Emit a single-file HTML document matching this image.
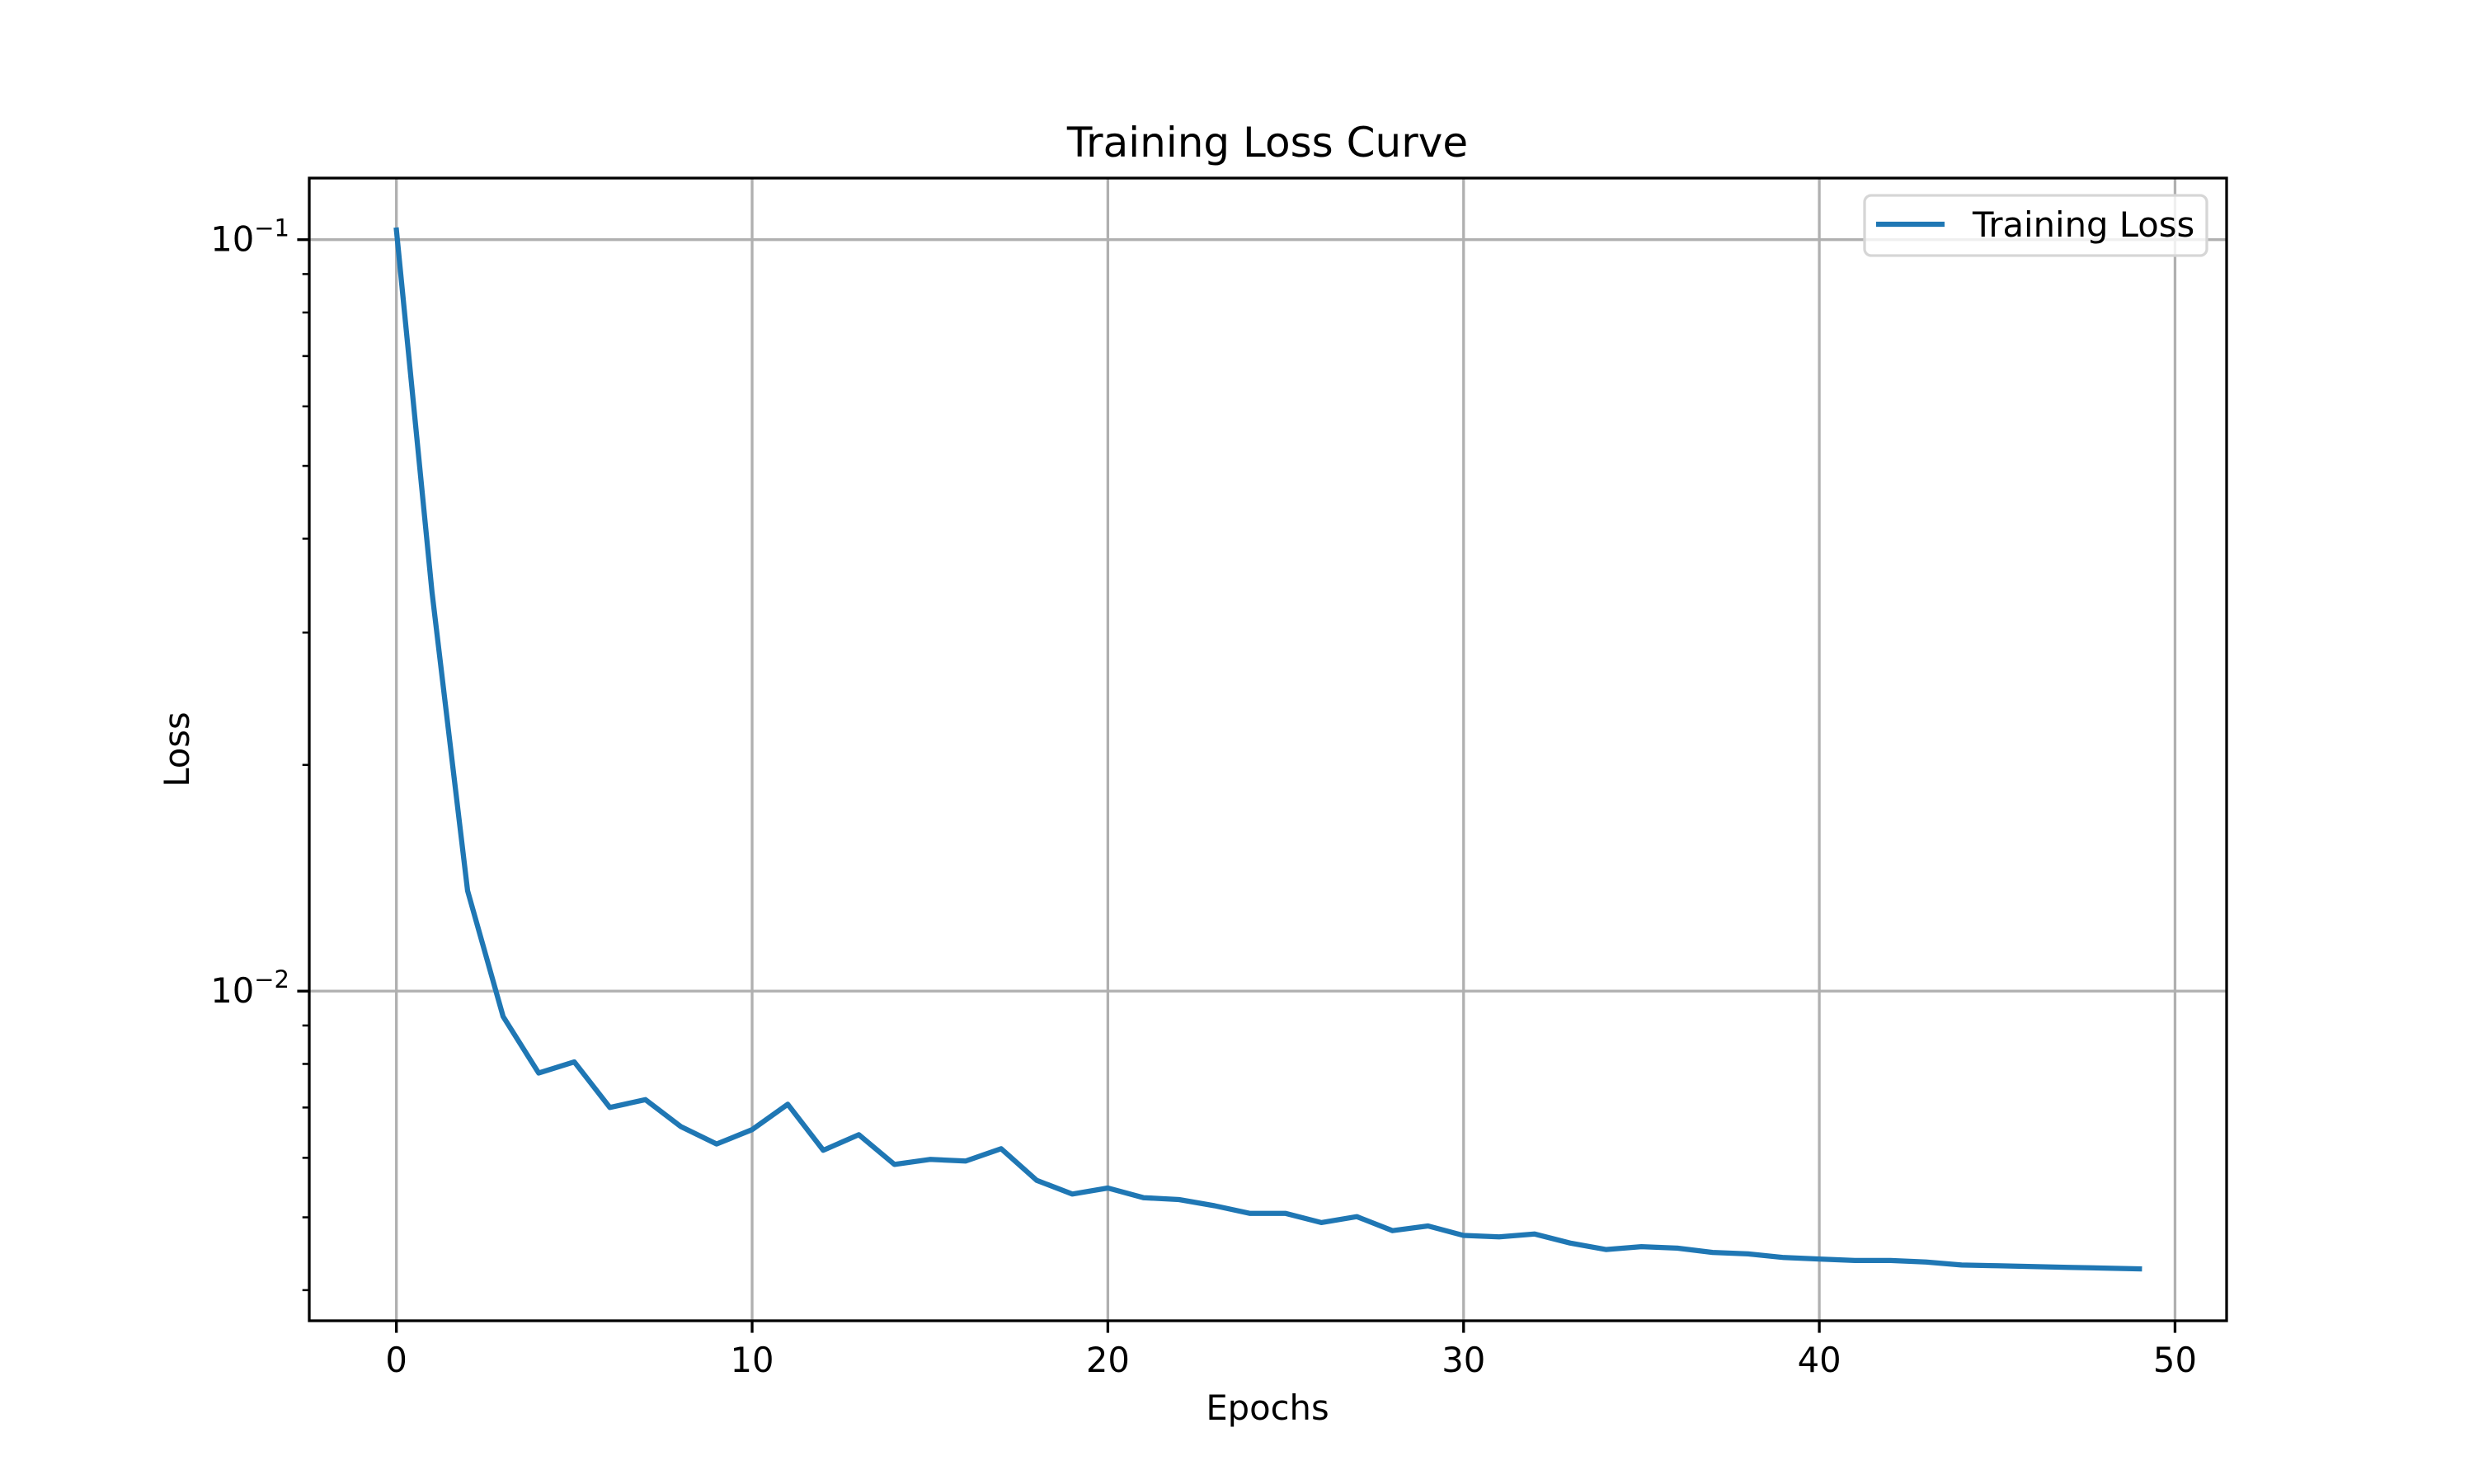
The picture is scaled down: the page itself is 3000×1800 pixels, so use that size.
<!DOCTYPE html>
<html><head><meta charset="utf-8"><style>
html,body{margin:0;padding:0;background:#fff;}
svg{display:block;font-family:"DejaVu Sans","Liberation Sans",sans-serif;}
</style></head><body>
<svg id="chart" width="3000" height="1800" viewBox="0 0 3000 1800" xmlns="http://www.w3.org/2000/svg">
<rect width="3000" height="1800" fill="#fff"/>
<g id="grid"></g>
<g id="ticks"></g>
<g id="series"></g>
<rect x="375" y="216" width="2325" height="1386" fill="none" stroke="#000" stroke-width="3.3"/>
<text x="1537" y="190" font-size="50" text-anchor="middle">Training Loss Curve</text>
<text x="1537" y="1722" font-size="41.7" text-anchor="middle">Epochs</text>
<text x="0" y="0" font-size="41.7" text-anchor="middle" transform="translate(229,909) rotate(-90)">Loss</text>
<g>
<rect x="2261" y="237" width="415" height="73" rx="8" fill="#fff" fill-opacity="0.8" stroke="#d6d6d6" stroke-width="3.3"/>
<line x1="2275" y1="272" x2="2358" y2="272" stroke="#1f77b4" stroke-width="6.25"/>
<text x="2392" y="287" font-size="41.7">Training Loss</text>
</g>
</svg>
<script>
const epochs = [0,1,2,3,4,5,6,7,8,9,10,11,12,13,14,15,16,17,18,19,20,21,22,23,24,25,26,27,28,29,30,31,32,33,34,35,36,37,38,39,40,41,42,43,44,45,46,47,48,49];
const lossValues = [0.103,0.034,0.0136,0.00925,0.00778,0.00805,0.0070,0.00717,0.0066,0.00626,0.00654,0.00707,0.00614,0.00644,0.00588,0.00597,0.00594,0.00617,0.0056,0.00537,0.00547,0.00531,0.00528,0.00518,0.00506,0.00506,0.00492,0.00501,0.0048,0.00487,0.00473,0.00471,0.00475,0.00462,0.00453,0.00457,0.00455,0.00449,0.00447,0.00442,0.0044,0.00438,0.00438,0.00436,0.00432,0.00431,0.0043,0.00429,0.00428,0.00427];
const xTicks = [0,10,20,30,40,50];
const yMajorExps = [-1,-2];

const L=375,R=2700,T=216,B=1602;
const NS="http://www.w3.org/2000/svg";
const xmin=Math.min(...epochs),xmax=Math.max(...epochs),xp=(xmax-xmin)*0.05;
const lmin=Math.log10(Math.min(...lossValues)),lmax=Math.log10(Math.max(...lossValues)),lp=(lmax-lmin)*0.05;
const X0=xmin-xp,X1=xmax+xp,Y0=lmin-lp,Y1=lmax+lp;
function sx(v){return L+(v-X0)/(X1-X0)*(R-L);}
function sy(v){return B-(Math.log10(v)-Y0)/(Y1-Y0)*(B-T);}
function mk(tag,attrs,parent){const e=document.createElementNS(NS,tag);for(const k in attrs)e.setAttribute(k,attrs[k]);parent.appendChild(e);return e;}
const grid=document.getElementById('grid'),ticks=document.getElementById('ticks'),series=document.getElementById('series');
xTicks.forEach(t=>{
  const x=sx(t);
  const g=mk('line',{x1:x,x2:x,y1:T,y2:B,stroke:'#b0b0b0','stroke-width':3.3},grid);
  
  
  const tk=mk('line',{x1:x,x2:x,y1:B,y2:B+14.6,stroke:'#000','stroke-width':3.3},ticks);
  
  
  const lb=mk('text',{x:x,y:B+62,'font-size':41.7,'text-anchor':'middle'},ticks);
  lb.textContent=String(t);
  
  
});
yMajorExps.forEach(e=>{
  const y=sy(Math.pow(10,e));
  const g=mk('line',{x1:L,x2:R,y1:y,y2:y,stroke:'#b0b0b0','stroke-width':3.3},grid);
  
  
  const tk=mk('line',{x1:L-14.6,x2:L,y1:y,y2:y,stroke:'#000','stroke-width':3.3},ticks);
  
  
  const lb=mk('text',{x:L-24,y:y+14,'font-size':41.7,'text-anchor':'end'},ticks);
  lb.innerHTML='10<tspan dy="-18" font-size="29">\u2212'+Math.abs(e)+'</tspan>';
  
  
});
for(let e=-4;e<=0;e++){for(let m=2;m<=9;m++){
  const v=m*Math.pow(10,e),lv=Math.log10(v);
  if(lv<Y0||lv>Y1)continue;
  const y=sy(v);
  const tk=mk('line',{x1:L-8.3,x2:L,y1:y,y2:y,stroke:'#000','stroke-width':2.5},ticks);
  
  
}}
const pts=epochs.map((e,i)=>sx(e).toFixed(1)+','+sy(lossValues[i]).toFixed(1)).join(' ');
const pl=mk('polyline',{points:pts,fill:'none',stroke:'#1f77b4','stroke-width':6.25,'stroke-linejoin':'round','stroke-linecap':'square'},series);


</script>
</body></html>
